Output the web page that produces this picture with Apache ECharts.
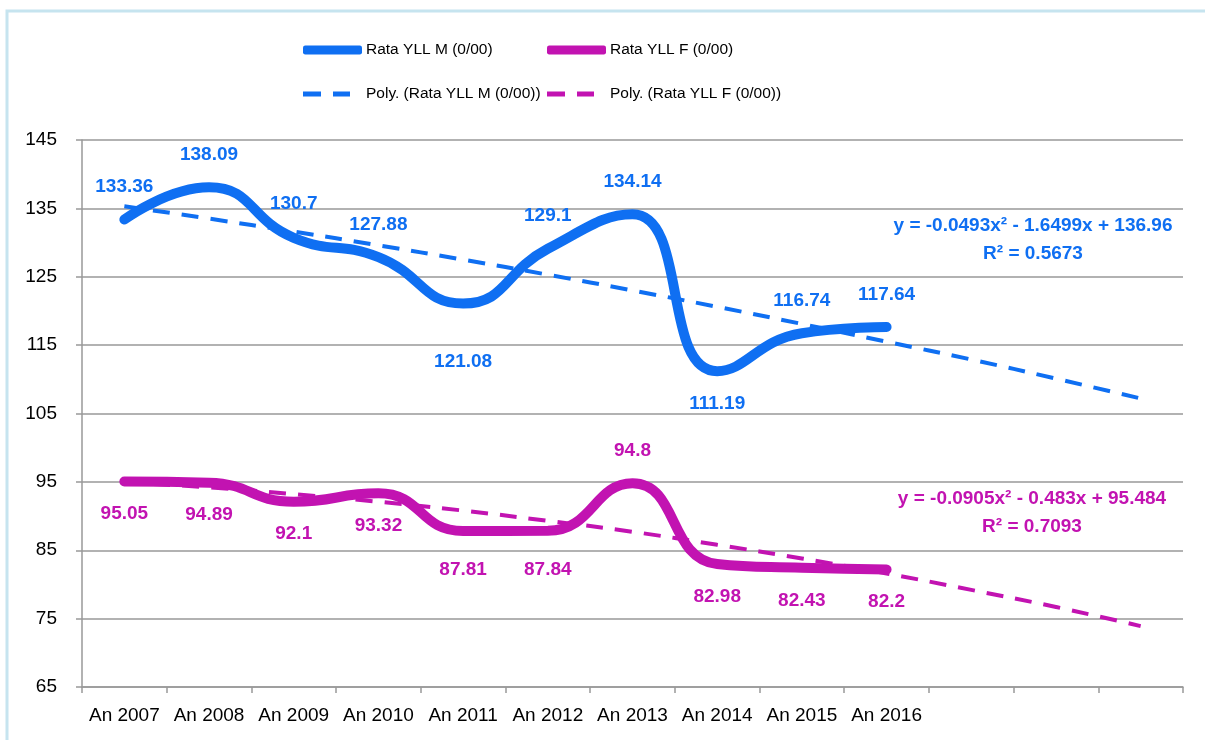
<!DOCTYPE html>
<html>
<head>
<meta charset="utf-8">
<script src="https://cdn.jsdelivr.net/npm/echarts@6/dist/echarts.min.js"></script>
<style>
  html, body { margin: 0; padding: 0; background: #fff; }
  #main { width: 1205px; height: 740px; }
</style>
</head>
<body>
<div id="main"></div>
<script>
// categories (3 empty slots for the trend forecast)
var years = ['An 2007', 'An 2008', 'An 2009', 'An 2010', 'An 2011', 'An 2012',
             'An 2013', 'An 2014', 'An 2015', 'An 2016', '', '', ''];
var rateM = [133.36, 138.09, 130.7, 127.88, 121.08, 129.1, 134.14, 111.19, 116.74, 117.64];
var rateF = [95.05, 94.89, 92.1, 93.32, 87.81, 87.84, 94.8, 82.98, 82.43, 82.2];
// polynomial trend lines
var trendM = [135.3, 133.5, 131.6, 129.6, 127.5, 125.3, 123.0, 120.6, 118.1, 115.5, 112.9, 110.1, 107.2];
var trendF = [94.9, 94.2, 93.2, 92.1, 90.8, 89.3, 87.7, 85.8, 83.8, 81.6, 79.2, 76.7, 73.9];
var yTicks = [65, 75, 85, 95, 105, 115, 125, 135, 145];

var blue = '#0f6ff2';
var pink = '#c213b1';
var font = '"Liberation Sans", Arial, sans-serif';
var dashIcon = 'path://M0,0h18v5h-18zM30,0h17v5h-17z';

var myChart = echarts.init(document.getElementById('main'));

// label placement: M mostly above, F mostly below
function labelsFor(values, below, tweak) {
    return values.map(function (v, i) {
        var item = {
            value: v,
            label: {
                show: true,
                position: below.indexOf(i) >= 0 ? 'bottom' : 'top',
                distance: 23
            }
        };
        if (tweak[i]) Object.assign(item.label, tweak[i]);
        return item;
    });
}

var mItems = labelsFor(rateM, [4, 7], { 2: { distance: 25 }, 4: { distance: 49 } });
var fItems = labelsFor(rateF, [0, 1, 2, 3, 4, 5, 7, 8, 9], { 4: { distance: 29 }, 5: { distance: 29 } });

function legendAt(name, color, icon, w, h, pad, left, top) {
    return {
        data: [{ name: name, icon: icon, itemStyle: { color: color } }],
        left: left,
        top: top,
        itemWidth: w,
        itemHeight: h,
        textStyle: { fontFamily: font, fontSize: 15.5, color: '#000', padding: [0, 0, 0, pad] }
    };
}

myChart.setOption({
    backgroundColor: '#fff',
    animation: false,
    legend: [
        legendAt('Rata YLL M (0/00)', blue, 'roundRect', 59, 9, -1, 298, 37),
        legendAt('Rata YLL F (0/00)', pink, 'roundRect', 59, 9, -1, 542, 37),
        legendAt('Poly. (Rata YLL M (0/00))', blue, dashIcon, 47, 5, 11, 298, 81),
        legendAt('Poly. (Rata YLL F (0/00))', pink, dashIcon, 47, 5, 11, 542, 81)
    ],
    grid: { left: 82, right: 22, top: 140, bottom: 53 },
    xAxis: {
        type: 'category',
        data: years,
        boundaryGap: true,
        axisLine: { lineStyle: { color: '#999', width: 1.5 } },
        axisTick: { show: true, interval: 0, length: 6, lineStyle: { color: '#999', width: 1.5 } },
        axisLabel: { interval: 0, color: '#000', fontFamily: font, fontSize: 19, margin: 19 },
        splitLine: { show: false }
    },
    yAxis: {
        type: 'value',
        min: yTicks[0],
        max: yTicks[yTicks.length - 1],
        interval: 10,
        axisLine: { show: true, lineStyle: { color: '#999', width: 1.5 } },
        axisTick: { show: true, length: 6, lineStyle: { color: '#999', width: 1.5 } },
        axisLabel: { color: '#000', fontFamily: font, fontSize: 19, margin: 25 },
        splitLine: { lineStyle: { color: '#999', width: 1.5 } }
    },
    series: [
        {
            name: 'Rata YLL M (0/00)',
            type: 'line',
            data: mItems,
            smooth: 0.5,
            symbol: 'circle',
            symbolSize: 0,
            showSymbol: true,
            z: 3,
            lineStyle: { color: blue, width: 10, cap: 'round' },
            itemStyle: { color: blue },
            label: { color: blue, fontFamily: font, fontWeight: 'bold', fontSize: 19 }
        },
        {
            name: 'Rata YLL F (0/00)',
            type: 'line',
            data: fItems,
            smooth: 0.5,
            symbol: 'circle',
            symbolSize: 0,
            showSymbol: true,
            z: 3,
            lineStyle: { color: pink, width: 10, cap: 'round' },
            itemStyle: { color: pink },
            label: { color: pink, fontFamily: font, fontWeight: 'bold', fontSize: 19 }
        },
        {
            name: 'Poly. (Rata YLL M (0/00))',
            type: 'line',
            data: trendM,
            smooth: true,
            symbol: 'none',
            z: 2,
            lineStyle: { color: blue, width: 4, type: [17, 12] },
            itemStyle: { color: blue }
        },
        {
            name: 'Poly. (Rata YLL F (0/00))',
            type: 'line',
            data: trendF,
            smooth: true,
            symbol: 'none',
            z: 2,
            lineStyle: { color: pink, width: 4, type: [17, 12] },
            itemStyle: { color: pink }
        }
    ],
    graphic: [
        {
            type: 'rect',
            shape: { x: 7, y: 11, width: 1300, height: 800 },
            style: { fill: 'none', stroke: '#c6e4ef', lineWidth: 3 },
            silent: true
        },
        {
            type: 'text', x: 1033, y: 226,
            style: { text: 'y = -0.0493x² - 1.6499x + 136.96', fill: blue, font: 'bold 19px ' + font, align: 'center', verticalAlign: 'middle' }
        },
        {
            type: 'text', x: 1033, y: 254,
            style: { text: 'R² = 0.5673', fill: blue, font: 'bold 19px ' + font, align: 'center', verticalAlign: 'middle' }
        },
        {
            type: 'text', x: 1032, y: 499,
            style: { text: 'y = -0.0905x² - 0.483x + 95.484', fill: pink, font: 'bold 19px ' + font, align: 'center', verticalAlign: 'middle' }
        },
        {
            type: 'text', x: 1032, y: 527,
            style: { text: 'R² = 0.7093', fill: pink, font: 'bold 19px ' + font, align: 'center', verticalAlign: 'middle' }
        }
    ]
});
</script>
</body>
</html>
